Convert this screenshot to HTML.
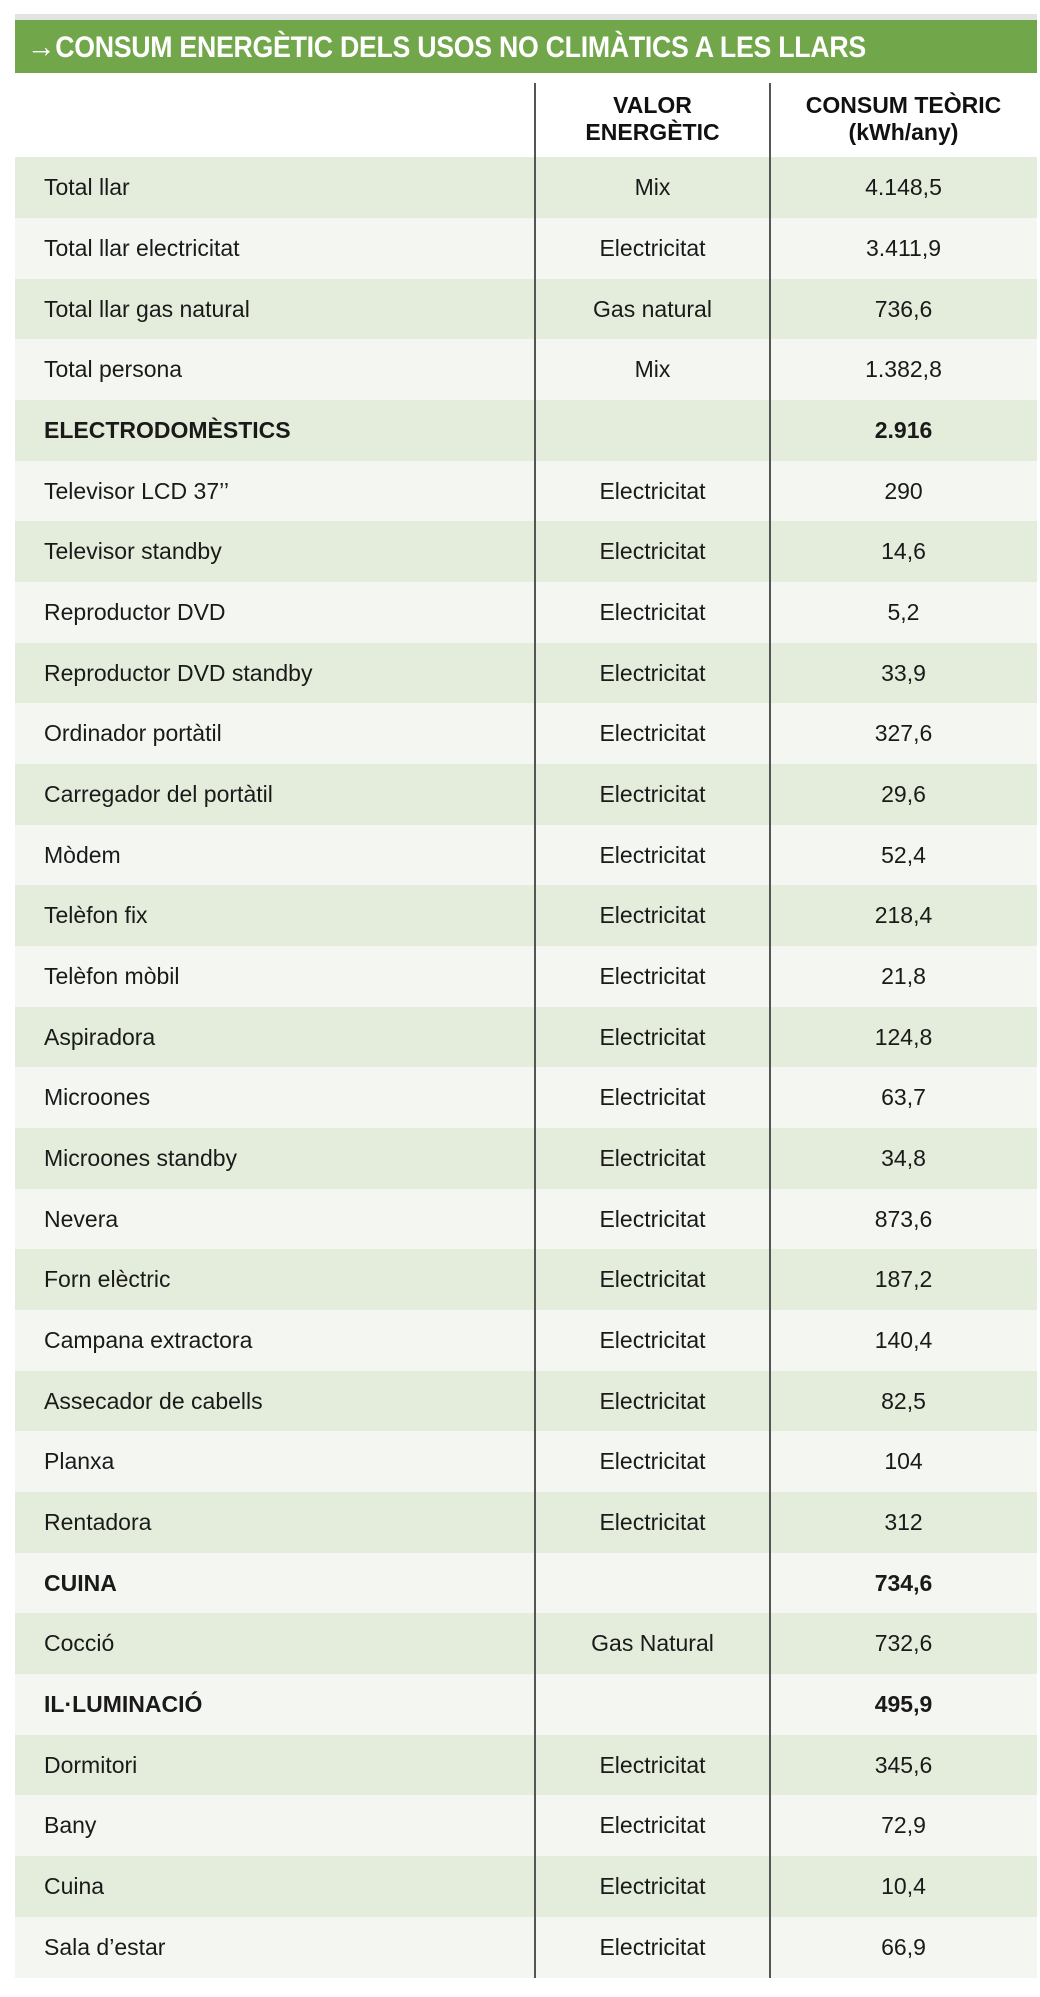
<!DOCTYPE html>
<html><head><meta charset="utf-8"><style>
body{margin:0;width:1040px;height:1997px;background:#fff;position:relative;font-family:"Liberation Sans",sans-serif;overflow:hidden}
.gb{position:absolute;left:15px;top:14px;width:1022px;height:6px;background:#e1e4e1}
.gr{position:absolute;left:15px;top:20px;width:1022px;height:53px;background:#72a64a}
.tt{position:absolute;left:27px;top:27px;color:#fff;font-weight:bold;font-size:30px;line-height:38px;white-space:nowrap;transform:scaleX(0.89);transform-origin:left center;letter-spacing:-0.3px}
.tt b{font-size:32px}
.row{position:absolute;left:15px;width:1022px;height:61px;font-size:23px;color:#1a1a1a}
.row span{position:absolute;top:0;line-height:61px;white-space:nowrap}
.a{left:29px}.b{left:520px;width:235px;text-align:center}.c{left:755px;width:267px;text-align:center}
.g{background:#e4eddb}.l{background:#f4f7f1}
.bold{font-weight:bold}
.vl{position:absolute;top:83px;width:1.5px;height:1895px;background:#555}
.h{position:absolute;top:92px;font-weight:bold;font-size:23px;line-height:27px;text-align:center;color:#111}
</style></head><body>
<div class="gb"></div><div class="gr"></div>
<div class="tt"><b>→</b>CONSUM ENERGÈTIC DELS USOS NO CLIMÀTICS A LES LLARS</div>
<div class="h" style="left:535px;width:235px">VALOR<br>ENERGÈTIC</div>
<div class="h" style="left:770px;width:267px">CONSUM TEÒRIC<br>(kWh/any)</div>
<div class="row g" style="top:157px"><span class="a">Total llar</span><span class="b">Mix</span><span class="c">4.148,5</span></div>
<div class="row l" style="top:218px"><span class="a">Total llar electricitat</span><span class="b">Electricitat</span><span class="c">3.411,9</span></div>
<div class="row g" style="top:279px"><span class="a">Total llar gas natural</span><span class="b">Gas natural</span><span class="c">736,6</span></div>
<div class="row l" style="top:339px"><span class="a">Total persona</span><span class="b">Mix</span><span class="c">1.382,8</span></div>
<div class="row g bold" style="top:400px"><span class="a">ELECTRODOMÈSTICS</span><span class="b"></span><span class="c">2.916</span></div>
<div class="row l" style="top:461px"><span class="a">Televisor LCD 37’’</span><span class="b">Electricitat</span><span class="c">290</span></div>
<div class="row g" style="top:521px"><span class="a">Televisor standby</span><span class="b">Electricitat</span><span class="c">14,6</span></div>
<div class="row l" style="top:582px"><span class="a">Reproductor DVD</span><span class="b">Electricitat</span><span class="c">5,2</span></div>
<div class="row g" style="top:643px"><span class="a">Reproductor DVD standby</span><span class="b">Electricitat</span><span class="c">33,9</span></div>
<div class="row l" style="top:703px"><span class="a">Ordinador portàtil</span><span class="b">Electricitat</span><span class="c">327,6</span></div>
<div class="row g" style="top:764px"><span class="a">Carregador del portàtil</span><span class="b">Electricitat</span><span class="c">29,6</span></div>
<div class="row l" style="top:825px"><span class="a">Mòdem</span><span class="b">Electricitat</span><span class="c">52,4</span></div>
<div class="row g" style="top:885px"><span class="a">Telèfon fix</span><span class="b">Electricitat</span><span class="c">218,4</span></div>
<div class="row l" style="top:946px"><span class="a">Telèfon mòbil</span><span class="b">Electricitat</span><span class="c">21,8</span></div>
<div class="row g" style="top:1007px"><span class="a">Aspiradora</span><span class="b">Electricitat</span><span class="c">124,8</span></div>
<div class="row l" style="top:1067px"><span class="a">Microones</span><span class="b">Electricitat</span><span class="c">63,7</span></div>
<div class="row g" style="top:1128px"><span class="a">Microones standby</span><span class="b">Electricitat</span><span class="c">34,8</span></div>
<div class="row l" style="top:1189px"><span class="a">Nevera</span><span class="b">Electricitat</span><span class="c">873,6</span></div>
<div class="row g" style="top:1249px"><span class="a">Forn elèctric</span><span class="b">Electricitat</span><span class="c">187,2</span></div>
<div class="row l" style="top:1310px"><span class="a">Campana extractora</span><span class="b">Electricitat</span><span class="c">140,4</span></div>
<div class="row g" style="top:1371px"><span class="a">Assecador de cabells</span><span class="b">Electricitat</span><span class="c">82,5</span></div>
<div class="row l" style="top:1431px"><span class="a">Planxa</span><span class="b">Electricitat</span><span class="c">104</span></div>
<div class="row g" style="top:1492px"><span class="a">Rentadora</span><span class="b">Electricitat</span><span class="c">312</span></div>
<div class="row l bold" style="top:1553px"><span class="a">CUINA</span><span class="b"></span><span class="c">734,6</span></div>
<div class="row g" style="top:1613px"><span class="a">Cocció</span><span class="b">Gas Natural</span><span class="c">732,6</span></div>
<div class="row l bold" style="top:1674px"><span class="a">IL·LUMINACIÓ</span><span class="b"></span><span class="c">495,9</span></div>
<div class="row g" style="top:1735px"><span class="a">Dormitori</span><span class="b">Electricitat</span><span class="c">345,6</span></div>
<div class="row l" style="top:1795px"><span class="a">Bany</span><span class="b">Electricitat</span><span class="c">72,9</span></div>
<div class="row g" style="top:1856px"><span class="a">Cuina</span><span class="b">Electricitat</span><span class="c">10,4</span></div>
<div class="row l" style="top:1917px"><span class="a">Sala d’estar</span><span class="b">Electricitat</span><span class="c">66,9</span></div>
<div class="vl" style="left:534px"></div>
<div class="vl" style="left:769px"></div>
</body></html>
